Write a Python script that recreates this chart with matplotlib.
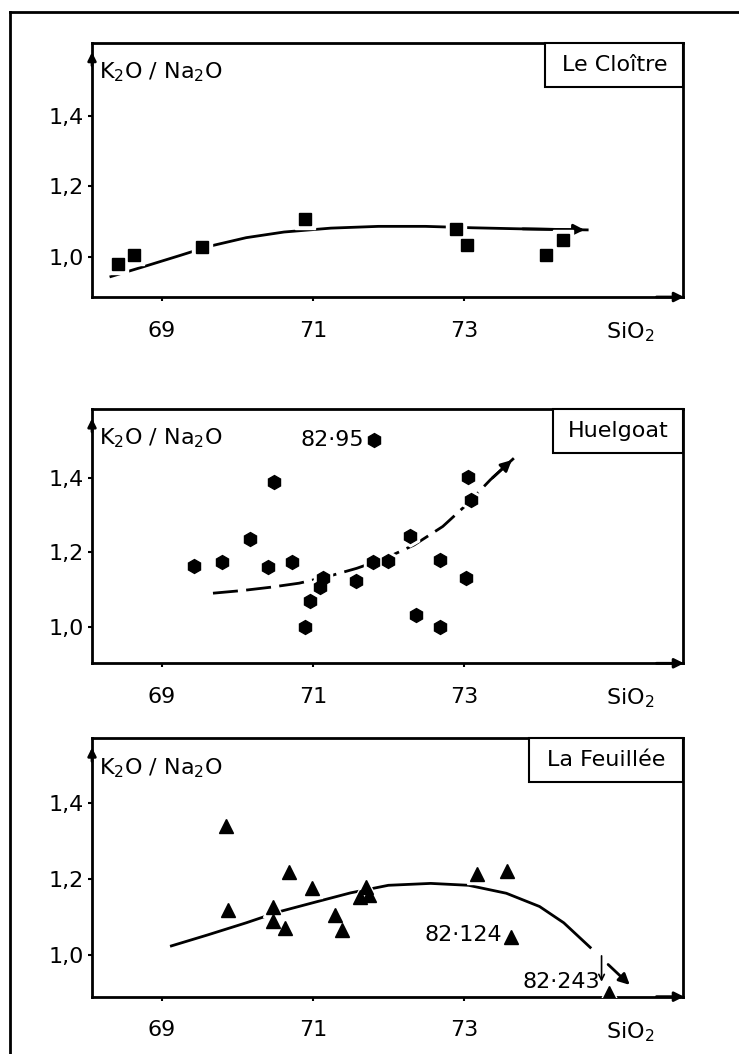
import numpy as np
import matplotlib
matplotlib.use('Agg')
import matplotlib.pyplot as plt
from matplotlib.patches import Rectangle
from matplotlib.lines import Line2D
from matplotlib.transforms import blended_transform_factory

plt.rcParams['font.family'] = ['DejaVu Sans']
plt.rcParams['font.size'] = 16
plt.rcParams['mathtext.default'] = 'regular'

# Le Cloître (squares)
cl_x = [68.43, 68.64, 69.53, 70.90, 72.89, 73.04, 74.08, 74.31]
cl_y = [0.981, 1.005, 1.028, 1.108, 1.080, 1.033, 1.005, 1.047]
cl_cx = [68.33, 68.75, 69.25, 69.62, 70.12, 70.62, 71.24, 71.87, 72.49, 73.11, 73.74, 74.63]
cl_cy = [0.945, 0.972, 1.005, 1.030, 1.055, 1.071, 1.082, 1.087, 1.087, 1.083, 1.080, 1.077]

# Huelgoat (hexagons)
hu_x = [69.43, 69.80, 70.17, 70.41, 70.49, 70.73, 70.90, 70.96, 71.10, 71.14, 71.57,
        71.80, 71.81, 71.99, 72.29, 72.37, 72.68, 72.68, 73.03, 73.06, 73.09]
hu_y = [1.162, 1.173, 1.236, 1.160, 1.391, 1.175, 1.000, 1.070, 1.106, 1.130, 1.123,
        1.173, 1.502, 1.178, 1.245, 1.030, 1.180, 1.000, 1.130, 1.403, 1.340]
hu_cx = [69.68, 70.06, 70.44, 70.82, 71.20, 71.58, 71.96, 72.34, 72.72, 73.03, 73.35, 73.66]
hu_cy = [1.090, 1.097, 1.106, 1.117, 1.135, 1.157, 1.184, 1.220, 1.270, 1.328, 1.396, 1.454]

# La Feuillée (triangles)
lf_x = [69.85, 69.88, 70.48, 70.48, 70.63, 70.68, 70.99, 71.29, 71.39, 71.62, 71.70,
        71.75, 73.17, 73.57, 73.62, 74.92]
lf_y = [1.340, 1.120, 1.127, 1.090, 1.070, 1.218, 1.176, 1.105, 1.067, 1.154, 1.180,
        1.158, 1.215, 1.222, 1.048, 0.900]
lf_cx = [69.13, 69.61, 70.12, 70.55, 71.06, 71.50, 72.00, 72.56, 73.06, 73.56, 74.00, 74.32, 74.67]
lf_cy = [1.024, 1.053, 1.085, 1.114, 1.141, 1.164, 1.184, 1.189, 1.184, 1.163, 1.128, 1.085, 1.020]

x_ticks = [69, 71, 73]
y_ticks = [1.0, 1.2, 1.4]
y_ticklabels = ['1,0', '1,2', '1,4']


def panel(ax, px, py, marker, ms, cx, cy, name, box_l, box_b, ylim, dash=None, arrow_end=True):
    ax.set_xlim(68.08, 75.9)
    ax.set_ylim(*ylim)
    for s in ax.spines.values():
        s.set_linewidth(2)
    ax.set_xticks(x_ticks)
    ax.set_xticklabels([str(t) for t in x_ticks])
    ax.set_yticks(y_ticks)
    ax.set_yticklabels(y_ticklabels)
    ax.tick_params(axis='x', direction='out', length=3, width=1.5, pad=14)
    ax.tick_params(axis='y', direction='out', length=3, width=1.5, pad=3)

    if dash:
        ax.plot(cx, cy, color='k', lw=2, dashes=dash, zorder=2)
    else:
        ax.plot(cx, cy, color='k', lw=2, zorder=2)
    if arrow_end:
        ax.annotate('', xy=(cx[-1], cy[-1]), xytext=(cx[-2], cy[-2]),
                    arrowprops=dict(arrowstyle='-|>', color='k', lw=2, mutation_scale=16))

    ax.plot(px, py, ls='none', marker=marker, ms=ms + 5, color='white', zorder=3)
    ax.plot(px, py, ls='none', marker=marker, ms=ms, color='black', zorder=4)

    # legend box in the top right corner
    ax.add_patch(Rectangle((box_l, box_b), 1 - box_l, 1 - box_b, transform=ax.transAxes,
                           fc='white', ec='black', lw=1.5, zorder=5, clip_on=False))
    ax.text((1 + box_l) / 2, (1 + box_b) / 2, name, transform=ax.transAxes,
            ha='center', va='center', zorder=6)

    ax.text(0.012, 0.885, 'K$_2$O / Na$_2$O', transform=ax.transAxes, ha='left', va='center')

    tr = blended_transform_factory(ax.transData, ax.transAxes)
    ax.annotate('SiO$_2$', xy=(75.2, 0), xycoords=tr, xytext=(0, -17),
                textcoords='offset points', ha='center', va='top')

    # axis arrows
    ax.annotate('', xy=(1.006, 0), xytext=(0.95, 0), xycoords='axes fraction',
                arrowprops=dict(arrowstyle='-|>', color='k', lw=2, mutation_scale=14))
    ax.annotate('', xy=(0, 0.975), xytext=(0, 0.9), xycoords='axes fraction',
                arrowprops=dict(arrowstyle='-|>', color='k', lw=2, mutation_scale=12))


fig = plt.figure(figsize=(7.39, 10.54), dpi=100)
ax1 = fig.add_axes([0.1245, 0.7182, 0.80, 0.241])
ax2 = fig.add_axes([0.1245, 0.3707, 0.80, 0.241])
ax3 = fig.add_axes([0.1245, 0.0544, 0.80, 0.2451])

panel(ax1, cl_x, cl_y, 's', 9, cl_cx, cl_cy, 'Le Cloître', 0.767, 0.826, (0.887, 1.606))
panel(ax2, hu_x, hu_y, 'h', 10, hu_cx, hu_cy, 'Huelgoat', 0.78, 0.827, (0.901, 1.586), dash=(9, 3))
panel(ax3, lf_x, lf_y, '^', 10, lf_cx, lf_cy, 'La Feuillée', 0.739, 0.83, (0.890, 1.572), arrow_end=False)

ax2.text(71.68, 1.502, '82·95', ha='right', va='center')
ax3.text(73.50, 1.053, '82·124', ha='right', va='center')
ax3.text(74.80, 0.929, '82·243', ha='right', va='center')
ax3.annotate('', xy=(74.82, 0.922), xytext=(74.82, 1.005),
             arrowprops=dict(arrowstyle='->', color='k', lw=1.2, mutation_scale=10))
ax3.annotate('', xy=(75.22, 0.916), xytext=(74.88, 0.98),
             arrowprops=dict(arrowstyle='-|>', color='k', lw=2, mutation_scale=16))

# outer frame of the scanned figure
fig.add_artist(Line2D([0.0135, 0.0135], [0.0, 0.9886], transform=fig.transFigure, color='k', lw=2))
fig.add_artist(Line2D([0.0135, 1.0], [0.9886, 0.9886], transform=fig.transFigure, color='k', lw=2))

fig.savefig('out.png', dpi=100)
